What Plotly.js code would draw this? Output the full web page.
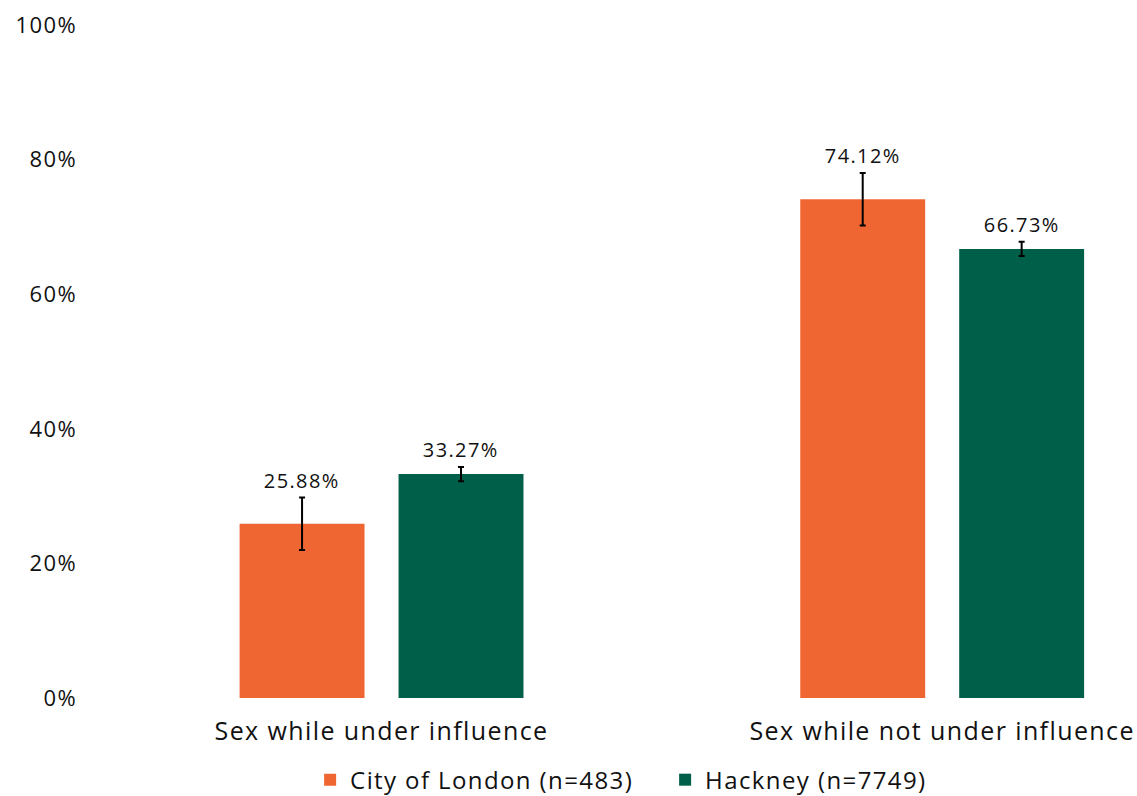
<!DOCTYPE html>
<html>
<head>
<meta charset="utf-8">
<script src="https://cdn.plot.ly/plotly-3.0.1.min.js"></script>
<style>
html,body{margin:0;padding:0;background:#fff;}
#chart{width:1137px;height:796px;}
#chart svg text{letter-spacing:1.4px;}
</style>
</head>
<body>
<div id="chart"></div>
<script>
const categories = ["Sex while under influence", "Sex while not under influence"];
const seriesNames = ["City of London (n=483)", "Hackney (n=7749)"];
const cityValues = [25.88, 74.12];
const cityErrors = [3.9, 3.9];
const hackneyValues = [33.27, 66.73];
const hackneyErrors = [1.05, 1.05];
const yTickVals = [0, 20, 40, 60, 80, 100];
const yTickText = ["0%", "20%", "40%", "60%", "80%", "100%"];

const FONT = "'Open Sans', Lato, sans-serif";
const colors = ["#F06632", "#005F49"];

function barTrace(name, vals, errs, color) {
  return {
    type: "bar", name: name, x: categories, y: vals,
    marker: {color: color},
    error_y: {type: "data", array: errs, visible: true, color: "#000", thickness: 2, width: 3},
    hoverinfo: "none"
  };
}
const traces = [
  barTrace(seriesNames[0], cityValues, cityErrors, colors[0]),
  barTrace(seriesNames[1], hackneyValues, hackneyErrors, colors[1])
];

const annotations = [];
[[cityValues, cityErrors, -79.5], [hackneyValues, hackneyErrors, 79.5]].forEach(([vals, errs, shift]) => {
  vals.forEach((v, i) => {
    annotations.push({
      x: categories[i], y: v + errs[i], xref: "x", yref: "y",
      text: v.toFixed(2) + "%", showarrow: false,
      xshift: shift, yshift: 2, yanchor: "bottom",
      font: {family: FONT, size: 20, color: "#111"}
    });
  });
});

const layout = {
  width: 1137, height: 796,
  margin: {l: 90, r: 7, t: 25, b: 98},
  paper_bgcolor: "#fff", plot_bgcolor: "#fff",
  font: {family: FONT, size: 22, color: "#111"},
  barmode: "group", bargap: 0.433, bargroupgap: 0.214,
  xaxis: {range: [-0.52, 1.335], showgrid: false, zeroline: false, showline: false, ticks: "",
          ticklabelstandoff: 16, automargin: false,
          tickfont: {family: FONT, size: 25, color: "#111"}},
  yaxis: {range: [0, 100], tickvals: yTickVals, ticktext: yTickText, showgrid: false,
          zeroline: false, showline: false, ticks: "", ticklabelstandoff: 12, automargin: false,
          tickfont: {family: FONT, size: 22, color: "#111"}},
  showlegend: true,
  legend: {orientation: "h", x: 0.553, xanchor: "center", yref: "container", y: 0.02, yanchor: "middle",
           font: {family: FONT, size: 24, color: "#111"}, itemwidth: 30, tracegroupgap: 0,
           entrywidth: 310, entrywidthmode: "pixels"},
  annotations: annotations
};
Plotly.newPlot("chart", traces, layout, {displayModeBar: false, staticPlot: true});
</script>
</body>
</html>
